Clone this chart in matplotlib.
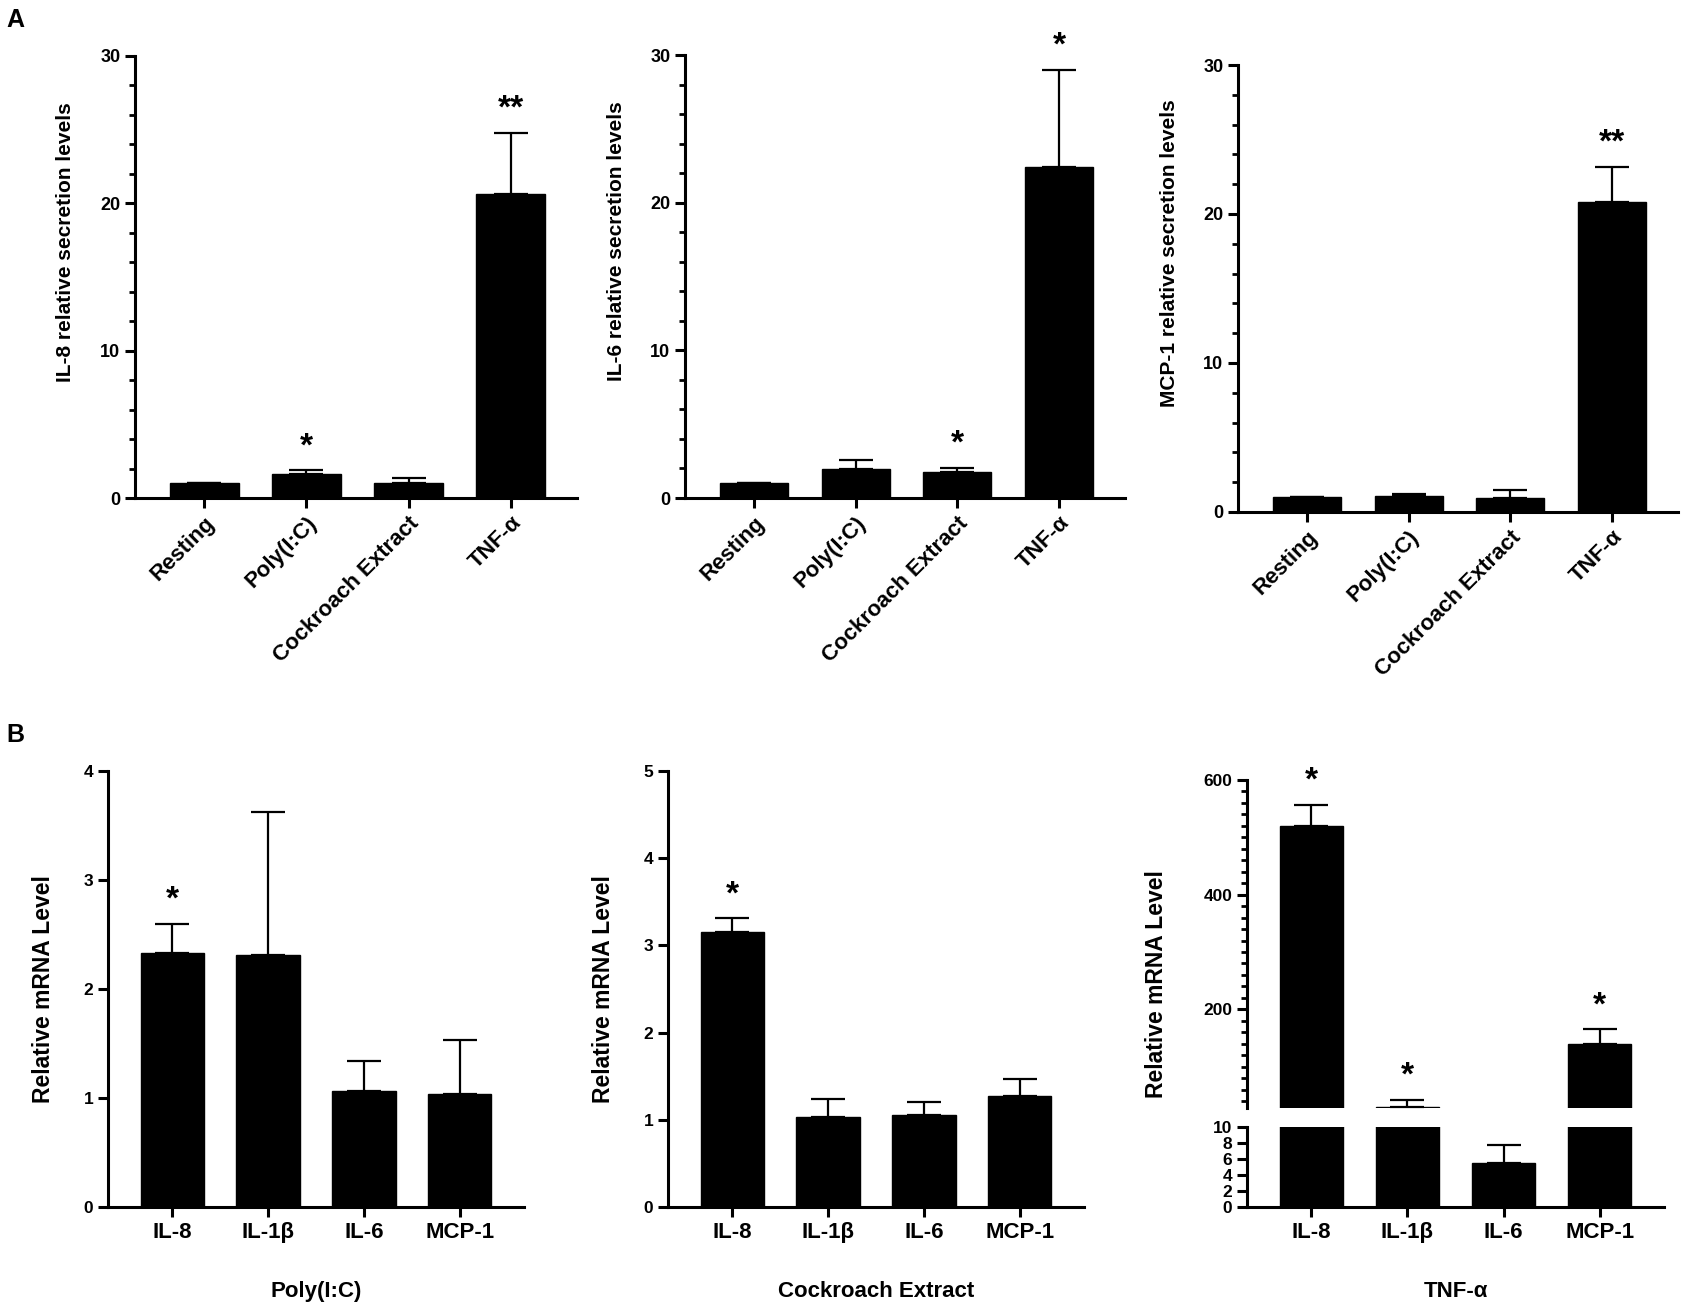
import matplotlib
matplotlib.use("Agg")
import matplotlib.pyplot as plt
from matplotlib.ticker import MultipleLocator
import numpy as np

plt.rcParams['font.family'] = ['Liberation Sans', 'DejaVu Sans']
plt.rcParams['font.weight'] = 'bold'
plt.rcParams['axes.labelweight'] = 'bold'

# panel A: secretion levels
treatments = ['Resting', 'Poly(I:C)', 'Cockroach Extract', 'TNF-α']
il8_sec = [1.0, 1.65, 1.02, 20.6]
il8_sec_err = [0.0, 0.22, 0.35, 4.2]
il8_sec_sig = ['', '*', '', '**']
il6_sec = [1.0, 1.97, 1.78, 22.4]
il6_sec_err = [0.0, 0.62, 0.25, 6.6]
il6_sec_sig = ['', '', '*', '*']
mcp1_sec = [1.0, 1.08, 0.97, 20.8]
mcp1_sec_err = [0.0, 0.12, 0.52, 2.35]
mcp1_sec_sig = ['', '', '', '**']

# panel B: mRNA levels
genes = ['IL-8', 'IL-1β', 'IL-6', 'MCP-1']
poly_mrna = [2.33, 2.31, 1.06, 1.04]
poly_err = [0.27, 1.31, 0.28, 0.49]
poly_sig = ['*', '', '', '']
cock_mrna = [3.15, 1.03, 1.05, 1.27]
cock_err = [0.16, 0.21, 0.15, 0.20]
cock_sig = ['*', '', '', '']
tnf_mrna = [520, 30, 5.5, 140]
tnf_err = [37, 12, 2.3, 25]
tnf_sig = ['*', '*', '', '*']

W, H = 1686.0, 1308.0  # pixel layout of the target


def box(l, r, t, b):
    return [l / W, 1 - b / H, (r - l) / W, (b - t) / H]


def style(ax, spines=('left', 'bottom'), size=13):
    for s in ['left', 'bottom', 'top', 'right']:
        ax.spines[s].set_visible(s in spines)
        ax.spines[s].set_linewidth(2.2)
    ax.tick_params(width=2.2, length=7, labelsize=size)
    ax.tick_params(which='minor', width=2.0, length=4.5)


def bars(ax, vals, err, sig, width, star_off=17):
    x = np.arange(len(vals))
    ax.bar(x, vals, width=width, color='black', edgecolor='black', zorder=2)
    lo = np.zeros(len(vals))
    ax.errorbar(x, vals, yerr=[lo, err], fmt='none', ecolor='black',
                elinewidth=1.6, capsize=12, capthick=1.6, zorder=1)
    for xi, v, e, s in zip(x, vals, err, sig):
        if s:
            ax.annotate(s, (xi, v + e), xytext=(0, star_off), textcoords='offset points',
                        ha='center', va='center', fontsize=24)
    return x


fig = plt.figure(figsize=(16.86, 13.08), dpi=100)

# ---- A ----
panelA = [
    (il8_sec, il8_sec_err, il8_sec_sig, 'IL-8 relative secretion levels', (135, 577, 56, 498)),
    (il6_sec, il6_sec_err, il6_sec_sig, 'IL-6 relative secretion levels', (685, 1125, 55, 498)),
    (mcp1_sec, mcp1_sec_err, mcp1_sec_sig, 'MCP-1 relative secretion levels', (1238, 1678, 65, 512)),
]
for vals, err, sig, lab, pos in panelA:
    ax = fig.add_axes(box(*pos))
    style(ax)
    x = bars(ax, vals, err, sig, 0.67)
    ax.set_xlim(-0.68, 3.65)
    ax.set_ylim(0, 30)
    ax.yaxis.set_major_locator(MultipleLocator(10))
    ax.yaxis.set_minor_locator(MultipleLocator(2))
    ax.set_xticks(x)
    ax.set_xticklabels(treatments, rotation=45, ha='right', rotation_mode='anchor', fontsize=16)
    ax.set_ylabel(lab, fontsize=15)
    ax.yaxis.set_label_coords(-0.135, 0.58)

fig.text(6 / W, 1 - 20 / H, 'A', fontsize=18, va='center')
fig.text(6 / W, 1 - 735 / H, 'B', fontsize=18, va='center')

# ---- B ----
panelB = [
    (poly_mrna, poly_err, poly_sig, 'Poly(I:C)', 4, (108, 524, 771, 1207)),
    (cock_mrna, cock_err, cock_sig, 'Cockroach Extract', 5, (668, 1084, 771, 1207)),
]
for vals, err, sig, lab, top, pos in panelB:
    ax = fig.add_axes(box(*pos))
    style(ax, size=12.5)
    x = bars(ax, vals, err, sig, 0.66)
    ax.set_xlim(-0.67, 3.67)
    ax.set_ylim(0, top)
    ax.yaxis.set_major_locator(MultipleLocator(1))
    ax.set_xticks(x)
    ax.set_xticklabels(genes, fontsize=16)
    ax.set_ylabel('Relative mRNA Level', fontsize=16.5)
    ax.yaxis.set_label_coords(-0.127, 0.5)
    ax.set_xlabel(lab, fontsize=16, labelpad=28)

# TNF-α panel with broken y axis
ax_hi = fig.add_axes(box(1247, 1664, 780, 1108))
ax_lo = fig.add_axes(box(1247, 1664, 1127, 1207))
style(ax_hi, spines=('left',), size=12.5)
style(ax_lo, size=12.5)
for ax in (ax_hi, ax_lo):
    x = bars(ax, tnf_mrna, tnf_err, tnf_sig if ax is ax_hi else [''] * 4, 0.66)
    ax.set_xlim(-0.67, 3.67)
ax_hi.set_ylim(28, 600)
ax_hi.yaxis.set_major_locator(MultipleLocator(200))
ax_hi.yaxis.set_minor_locator(MultipleLocator(20))
ax_hi.set_xticks([])
ax_lo.set_ylim(0, 10)
ax_lo.yaxis.set_major_locator(MultipleLocator(2))
ax_lo.set_xticks(x)
ax_lo.set_xticklabels(genes, fontsize=16)
ax_lo.set_xlabel('TNF-α', fontsize=16, labelpad=28)
ax_hi.set_ylabel('Relative mRNA Level', fontsize=16.5)
ax_hi.yaxis.set_label_coords(-0.19, 0.378)

fig.savefig('out.png', dpi=100)
